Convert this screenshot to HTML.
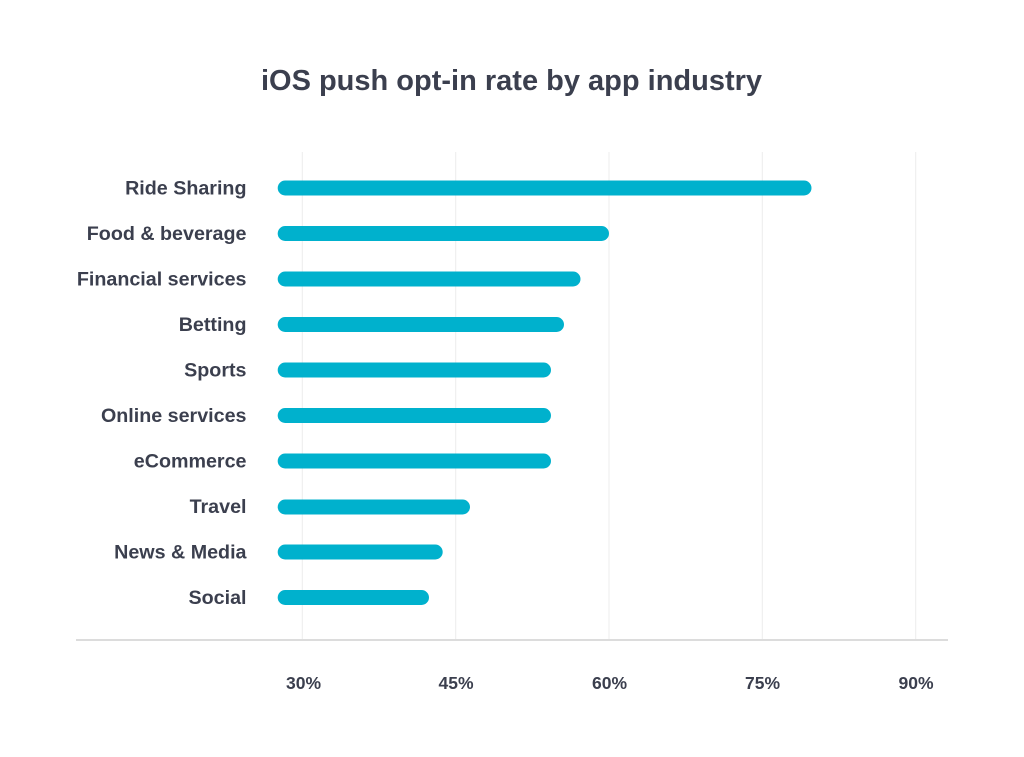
<!DOCTYPE html>
<html>
<head>
<meta charset="utf-8">
<style>
  html, body { margin: 0; padding: 0; background: #ffffff; }
  svg { display: block; }
  text { font-family: "Liberation Sans", Arial, sans-serif; font-weight: 700; fill: #3b3f4e; }
</style>
</head>
<body>
<svg width="1024" height="757" viewBox="0 0 1024 757" xmlns="http://www.w3.org/2000/svg">
  <rect width="1024" height="757" fill="#ffffff"/>
  <text x="511.5" y="90" font-size="29" text-anchor="middle">iOS push opt-in rate by app industry</text>

  <!-- gridlines -->
  <g stroke="#ececec" stroke-width="1">
    <line x1="302.3" y1="152" x2="302.3" y2="639"/>
    <line x1="455.7" y1="152" x2="455.7" y2="639"/>
    <line x1="609" y1="152" x2="609" y2="639"/>
    <line x1="762.3" y1="152" x2="762.3" y2="639"/>
    <line x1="915.7" y1="152" x2="915.7" y2="639"/>
  </g>
  <!-- axis -->
  <line x1="76" y1="640" x2="948" y2="640" stroke="#dcdcdc" stroke-width="2"/>

  <!-- bars -->
  <g stroke="#00b1cd" stroke-width="15" stroke-linecap="round">
    <line x1="285.2" y1="188" x2="804" y2="188"/>
    <line x1="285.2" y1="233.5" x2="601.5" y2="233.5"/>
    <line x1="285.2" y1="279" x2="573" y2="279"/>
    <line x1="285.2" y1="324.5" x2="556.5" y2="324.5"/>
    <line x1="285.2" y1="370" x2="543.5" y2="370"/>
    <line x1="285.2" y1="415.5" x2="543.5" y2="415.5"/>
    <line x1="285.2" y1="461" x2="543.5" y2="461"/>
    <line x1="285.2" y1="507" x2="462.5" y2="507"/>
    <line x1="285.2" y1="552" x2="435.2" y2="552"/>
    <line x1="285.2" y1="597.5" x2="421.5" y2="597.5"/>
  </g>

  <!-- category labels -->
  <g font-size="19.7" text-anchor="end">
    <text x="246.5" y="194.5">Ride Sharing</text>
    <text x="246.5" y="240">Food &amp; beverage</text>
    <text x="246.5" y="285.5">Financial services</text>
    <text x="246.5" y="331">Betting</text>
    <text x="246.5" y="376.5">Sports</text>
    <text x="246.5" y="422">Online services</text>
    <text x="246.5" y="467.5">eCommerce</text>
    <text x="246.5" y="513">Travel</text>
    <text x="246.5" y="558.5">News &amp; Media</text>
    <text x="246.5" y="604">Social</text>
  </g>

  <!-- tick labels -->
  <g font-size="17.5" text-anchor="middle">
    <text x="303.5" y="689">30%</text>
    <text x="456" y="689">45%</text>
    <text x="609.5" y="689">60%</text>
    <text x="762.5" y="689">75%</text>
    <text x="916" y="689">90%</text>
  </g>
</svg>
</body>
</html>
